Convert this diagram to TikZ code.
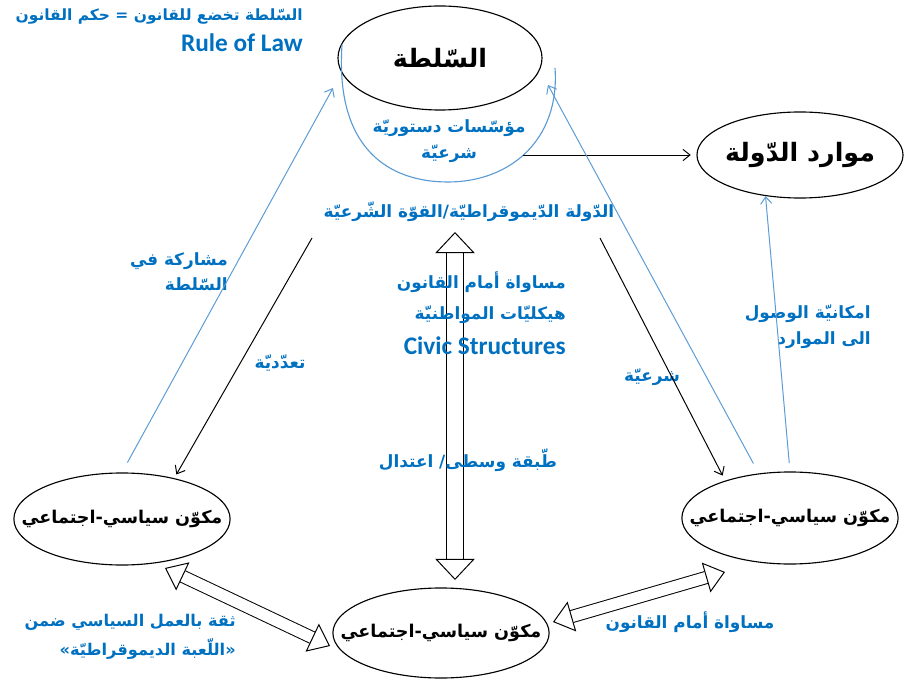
\documentclass[tikz,border=0pt]{standalone}
\usepackage{fontspec}
\setmainfont{Carlito}
\newfontfamily\arabicfont[Script=Arabic]{DejaVu Sans}
\TeXXeTstate=1
\usepackage{tikz}
\usetikzlibrary{shapes.geometric, arrows.meta, positioning, calc}
\definecolor{darkblue}{RGB}{0,112,192}
\definecolor{paleblue}{RGB}{91,155,213}
\newcommand{\artxt}[1]{{\arabicfont\beginR #1\endR}}
\tikzset{
  big/.style={ellipse, draw, line width=0.8pt, inner xsep=-6pt, inner ysep=0pt,
    font=\fontsize{18}{22}\selectfont\bfseries},
  comp/.style={ellipse, draw, line width=0.8pt, inner xsep=-17pt, inner ysep=0pt,
    minimum width=5.4cm, minimum height=2.3cm, font=\fontsize{12.5}{15}\selectfont\bfseries},
  lbl/.style={text=darkblue, font=\fontsize{12}{18}\selectfont\bfseries, align=center, inner sep=0pt},
  arrow/.style={-{Straight Barb[length=5pt, width=8pt]}, line width=0.7pt},
  barrow/.style={-{Straight Barb[length=5pt, width=8pt]}, line width=0.7pt, paleblue},
  vhollow/.style={line width=0.7pt, double=white, double distance=12pt,
    {Triangle[fill=white, length=15pt, width=28pt, line width=0.7pt]}-{Triangle[fill=white, length=15pt, width=28pt, line width=0.7pt]}},
  dhollow/.style={line width=0.7pt, double=white, double distance=8pt,
    {Triangle[fill=white, length=14pt, width=22pt, line width=0.7pt]}-{Triangle[fill=white, length=14pt, width=22pt, line width=0.7pt]}}
}
\begin{document}
\begin{tikzpicture}[x=0.025cm, y=-0.025cm]
  \useasboundingbox (0,0) rectangle (908,682);
  \coordinate (vtop) at (455,232);
  \coordinate (vbot) at (455,580);
  \coordinate (lla) at (165,568);
  \coordinate (llb) at (330,646);
  \coordinate (lra) at (553,622);
  \coordinate (lrb) at (725,572);
  \draw[vhollow] (vtop) -- (vbot);
  \draw[dhollow] (lla) -- (llb);
  \draw[dhollow] (lra) -- (lrb);
  \node[big, minimum width=5.1cm, minimum height=2.6cm] (sulta) at (440,58) {\artxt{السّلطة}};
  \node[big, minimum width=5.15cm, minimum height=2.15cm] (mawarid) at (800,155) {\artxt{موارد الدّولة}};
  \node[comp] (left) at (122,519) {\artxt{مكوّن سياسي-اجتماعي}};
  \node[comp] (right) at (790,518) {\artxt{مكوّن سياسي-اجتماعي}};
  \node[comp, minimum width=5.3cm, minimum height=2.25cm] (bottom) at (441,633) {\artxt{مكوّن سياسي-اجتماعي}};
  \draw[paleblue, line width=0.8pt] (342,45) .. controls (335,150) and (390,182) .. (448,182) .. controls (510,182) and (560,140) .. (555,68);
  \node[lbl] (muassasat) at (449,141) {\artxt{مؤسّسات دستوريّة}\\\artxt{شرعيّة}};
  \node[lbl, align=right, anchor=east, font=\fontsize{11}{22}\selectfont\bfseries] (rol) at (303,30) {\artxt{السّلطة تخضع للقانون = حكم القانون}\\{\fontsize{18}{20}\selectfont Rule of Law}};
  \node[lbl] (dawla) at (469,212) {\artxt{الدّولة الدّيموقراطيّة/القوّة الشّرعيّة}};
  \node[lbl, align=right, anchor=east, font=\fontsize{12}{22}\selectfont\bfseries] (musawat) at (566,313) {\artxt{مساواة أمام القانون}\\\artxt{هيكليّات المواطنيّة}\\[3pt]{\fontsize{18}{20}\selectfont Civic Structures}};
  \node[lbl, align=right, anchor=east] (musharaka) at (228,272) {\artxt{مشاركة في}\\\artxt{السّلطة}};
  \node[lbl] (taaddud) at (280,363) {\artxt{تعدّديّة}};
  \node[lbl] (sharia) at (652,377) {\artxt{شرعيّة}};
  \node[lbl, align=right, anchor=east, font=\fontsize{12}{19}\selectfont\bfseries] (imkan) at (871,327) {\artxt{امكانيّة الوصول}\\\artxt{الى الموارد}};
  \node[lbl] (tabaqa) at (468,460) {\artxt{طّبقة وسطى/ اعتدال}};
  \node[lbl, align=right, anchor=east, font=\fontsize{11.5}{21}\selectfont\bfseries] (thiqa) at (236,637) {\artxt{ثقة بالعمل السياسي ضمن}\\\artxt{«اللّعبة الديموقراطيّة»}};
  \node[lbl] (musawat2) at (690,622) {\artxt{مساواة أمام القانون}};
  \coordinate (ltop) at (312,238);
  \coordinate (rtop) at (600,238);
  \coordinate (arcl) at (333,88);
  \coordinate (arcr) at (548,85);
  \coordinate (inst) at (523,155);
  \draw[arrow, shorten >=3pt] (ltop) -- (left.38);
  \draw[arrow, shorten >=4pt] (rtop) -- (right.150);
  \draw[arrow, shorten >=4pt] (inst) -- (mawarid.west);
  \draw[barrow, shorten <=8pt] (left.north) -- (arcl);
  \draw[barrow, shorten <=8pt] (right.125) -- (arcr);
  \draw[barrow, shorten <=6pt] (right.north) -- (mawarid.-130);
\end{tikzpicture}
\end{document}
